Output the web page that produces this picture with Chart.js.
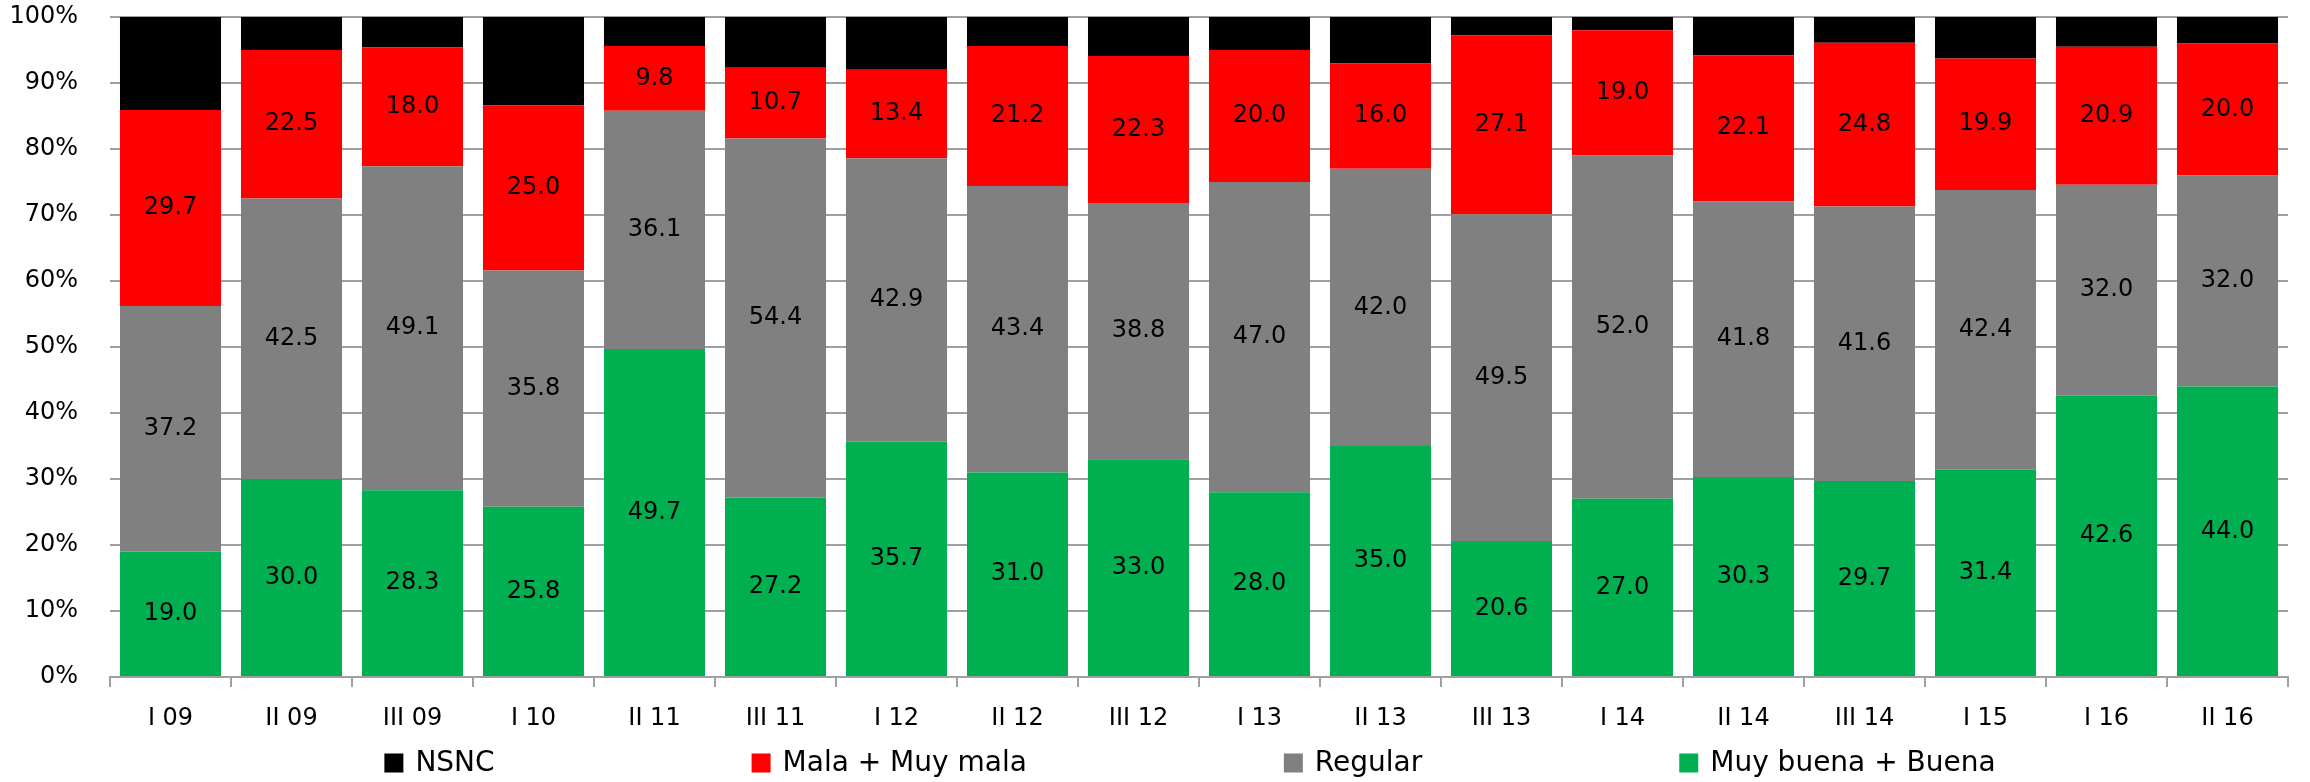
<!DOCTYPE html>
<html>
<head>
<meta charset="utf-8">
<script src="https://cdn.jsdelivr.net/npm/chart.js@4.4.0/dist/chart.umd.min.js"></script>
<style>
  html, body { margin: 0; padding: 0; background: #fff; }
  #wrap { width: 2310px; height: 782px; }
</style>
</head>
<body>
<div id="wrap"><canvas id="grafico" width="2310" height="782"></canvas></div>
<script>
const periodos = ["I 09", "II 09", "III 09", "I 10", "II 11", "III 11", "I 12", "II 12", "III 12",
  "I 13", "II 13", "III 13", "I 14", "II 14", "III 14", "I 15", "I 16", "II 16"];

const buena = [19.0, 30.0, 28.3, 25.8, 49.7, 27.2, 35.7, 31.0, 33.0, 28.0, 35.0, 20.6, 27.0, 30.3, 29.7, 31.4, 42.6, 44.0];
const regular = [37.2, 42.5, 49.1, 35.8, 36.1, 54.4, 42.9, 43.4, 38.8, 47.0, 42.0, 49.5, 52.0, 41.8, 41.6, 42.4, 32.0, 32.0];
const mala = [29.7, 22.5, 18.0, 25.0, 9.8, 10.7, 13.4, 21.2, 22.3, 20.0, 16.0, 27.1, 19.0, 22.1, 24.8, 19.9, 20.9, 20.0];
const nsnc = [14.1, 5.0, 4.6, 13.4, 4.4, 7.7, 8.0, 4.4, 5.9, 5.0, 7.0, 2.8, 2.0, 5.8, 3.9, 6.3, 4.5, 4.0];

const fuente = "'DejaVu Sans', sans-serif";

// etiquetas de valor centradas en cada tramo (no se ponen en NSNC)
const etiquetas = {
  id: "etiquetas",
  afterDatasetsDraw(chart) {
    const ctx = chart.ctx;
    ctx.save();
    ctx.font = "24px " + fuente;
    ctx.fillStyle = "#000";
    ctx.textAlign = "center";
    ctx.textBaseline = "middle";
    chart.data.datasets.forEach((ds, i) => {
      if (!ds.mostrarValor) return;
      const meta = chart.getDatasetMeta(i);
      meta.data.forEach((bar, j) => {
        const y = (bar.y + bar.base) / 2;
        ctx.fillText(ds.data[j].toFixed(1), bar.x, y);
      });
    });
    ctx.restore();
  }
};

// leyenda propia, con el espaciado ancho del original
const leyenda = {
  id: "leyenda",
  afterDraw(chart) {
    const ctx = chart.ctx;
    const orden = [3, 2, 1, 0];
    const caja = 19, sep = 12, hueco = 257;
    ctx.save();
    ctx.font = "28px " + fuente;
    ctx.textBaseline = "middle";
    ctx.textAlign = "left";
    let total = 0;
    const anchos = orden.map(i => ctx.measureText(chart.data.datasets[i].label).width);
    anchos.forEach((w, k) => { total += caja + sep + w + (k > 0 ? hueco : 0); });
    const area = chart.chartArea;
    let x = (area.left + area.right) / 2 - 9 - total / 2;
    const y = 763;
    orden.forEach((i, k) => {
      const ds = chart.data.datasets[i];
      ctx.fillStyle = ds.backgroundColor;
      ctx.fillRect(x, y - caja / 2, caja, caja);
      ctx.fillStyle = "#000";
      ctx.fillText(ds.label, x + caja + sep, y + 1);
      x += caja + sep + anchos[k] + hueco;
    });
    ctx.restore();
  }
};

const ctx = document.getElementById("grafico").getContext("2d");
new Chart(ctx, {
  type: "bar",
  data: {
    labels: periodos,
    datasets: [
      { label: "Muy buena + Buena", data: buena, backgroundColor: "#00B050", mostrarValor: true },
      { label: "Regular", data: regular, backgroundColor: "#808080", mostrarValor: true },
      { label: "Mala + Muy mala", data: mala, backgroundColor: "#FF0000", mostrarValor: true },
      { label: "NSNC", data: nsnc, backgroundColor: "#000000", mostrarValor: false }
    ]
  },
  options: {
    responsive: false,
    animation: false,
    layout: { padding: { left: 9, right: 22, top: 17, bottom: 49 } },
    datasets: { bar: { barPercentage: 0.835, categoryPercentage: 1.0 } },
    plugins: {
      legend: { display: false },
      tooltip: { enabled: false }
    },
    scales: {
      x: {
        stacked: true,
        grid: { offset: true, drawOnChartArea: false, drawTicks: true, tickLength: 10, color: "#a0a0a0", lineWidth: 2 },
        border: { display: true, color: "#a0a0a0", width: 2 },
        ticks: { font: { family: fuente, size: 24 }, color: "#000", padding: 17, maxRotation: 0, autoSkip: false },
        afterFit: s => { s.height = 56; s.paddingLeft = 0; s.paddingRight = 0; }
      },
      y: {
        stacked: true,
        min: 0,
        max: 100,
        grid: { drawTicks: false, color: "#a0a0a0", lineWidth: 2 },
        border: { display: false },
        ticks: {
          stepSize: 10,
          padding: 32,
          font: { family: fuente, size: 24 },
          color: "#000",
          callback: v => v + "%"
        },
        afterFit: s => { s.width = 101; s.paddingTop = 0; s.paddingBottom = 0; }
      }
    }
  },
  plugins: [etiquetas, leyenda]
});
</script>
</body>
</html>
